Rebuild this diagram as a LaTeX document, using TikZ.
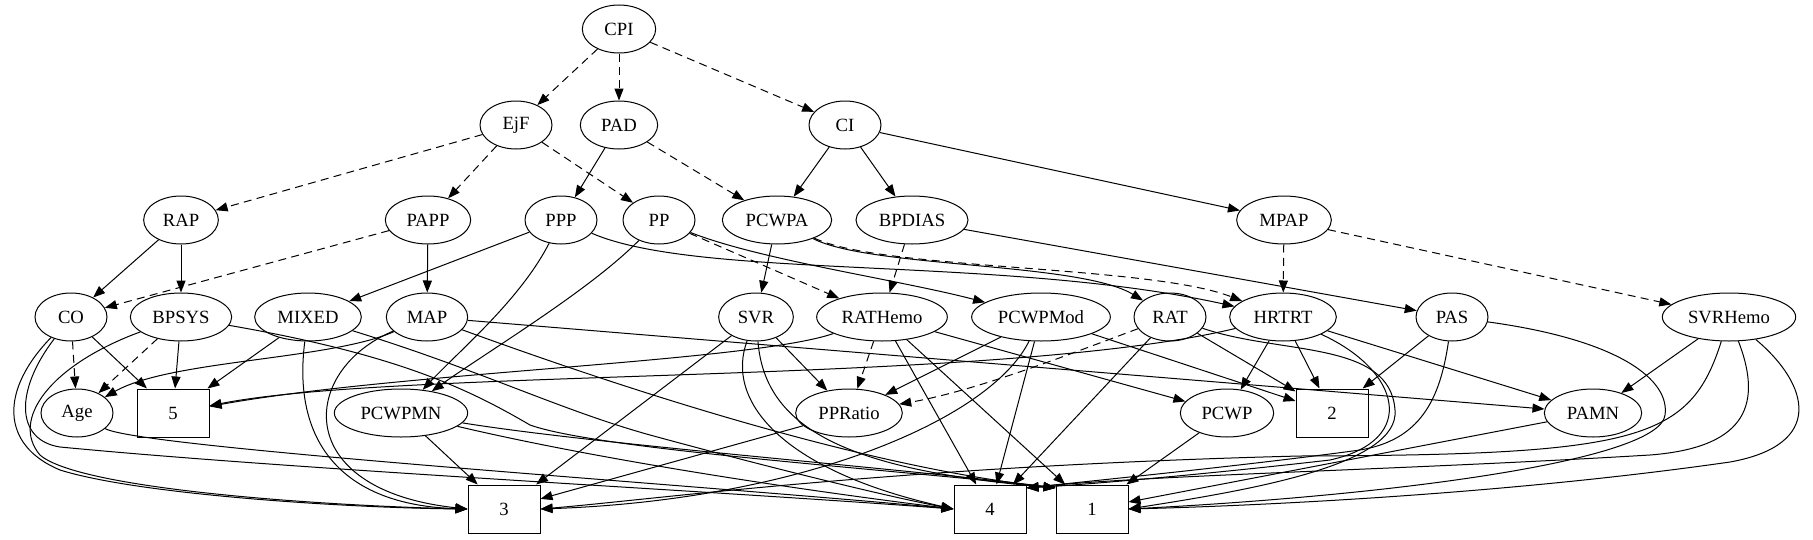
\documentclass[tikz,border=0pt]{standalone}
\usepackage{fontspec}
\setmainfont{Liberation Serif}
\usetikzlibrary{arrows.meta,shapes.geometric}

\tikzset{
  var/.style={draw, ellipse, minimum height=36pt, inner sep=0pt},
  outc/.style={draw, rectangle, minimum width=54pt, minimum height=36pt, inner sep=0pt},
  edge/.style={-{Triangle[length=9pt,width=6.8pt]}},
  dedge/.style={edge, dash pattern=on 6pt off 4pt}
}

\begin{document}
\begin{tikzpicture}[x=0.75pt, y=-0.75pt, line width=0.75pt, font=\fontsize{14}{16}\selectfont]
                \useasboundingbox (0,0) rectangle (1813,539);
                % Variables:
                \node[var, minimum width=55pt] (CPI) at (619,29) {CPI};
                \node[var, minimum width=54pt] (EjF) at (516,125) {EjF};
                \node[var, minimum width=58pt] (PAD) at (619,125) {PAD};
                \node[var, minimum width=54pt] (CI) at (845,125) {CI};
                \node[var, minimum width=56pt] (RAP) at (181,220) {RAP};
                \node[var, minimum width=64pt] (PAPP) at (428,220) {PAPP};
                \node[var, minimum width=54pt] (PPP) at (561,220) {PPP};
                \node[var, minimum width=54pt] (PP) at (659,220) {PP};
                \node[var, minimum width=82pt] (PCWPA) at (777,220) {PCWPA};
                \node[var, minimum width=84pt] (BPDIAS) at (912,220) {BPDIAS};
                \node[var, minimum width=71pt] (MPAP) at (1284,220) {MPAP};
                \node[var, minimum width=54pt] (CO) at (71,317) {CO};
                \node[var, minimum width=76pt] (BPSYS) at (181,317) {BPSYS};
                \node[var, minimum width=80pt] (MIXED) at (308,317) {MIXED};
                \node[var, minimum width=61pt] (MAP) at (427,317) {MAP};
                \node[var, minimum width=56pt] (SVR) at (756,317) {SVR};
                \node[var, minimum width=98pt] (RATHemo) at (882,317) {RATHemo};
                \node[var, minimum width=104pt] (PCWPMod) at (1041,317) {PCWPMod};
                \node[var, minimum width=54pt] (RAT) at (1170,317) {RAT};
                \node[var, minimum width=80pt] (HRTRT) at (1283,317) {HRTRT};
                \node[var, minimum width=54pt] (PAS) at (1452,317) {PAS};
                \node[var, minimum width=100pt] (SVRHemo) at (1729,317) {SVRHemo};
                \node[var, minimum width=54pt] (Age) at (77,413) {Age};
                \node[var, minimum width=100pt] (PCWPMN) at (401,413) {PCWPMN};
                \node[var, minimum width=80pt] (PPRatio) at (849,413) {PPRatio};
                \node[var, minimum width=70pt] (PCWP) at (1227,413) {PCWP};
                \node[var, minimum width=73pt] (PAMN) at (1593,413) {PAMN};
                % Outcome boxes:
                \node[outc] (b5) at (173,413) {5};
                \node[outc] (b2) at (1332,413) {2};
                \node[outc] (b3) at (504,509) {3};
                \node[outc] (b4) at (990,509) {4};
                \node[outc] (b1) at (1092,509) {1};
                % Dashed edges:
                \draw[dedge] (CPI) -- (EjF);
                \draw[dedge] (CPI) -- (PAD);
                \draw[dedge] (CPI) -- (CI);
                \draw[dedge] (EjF) -- (RAP);
                \draw[dedge] (EjF) -- (PAPP);
                \draw[dedge] (EjF) -- (PP);
                \draw[dedge] (PAD) -- (PCWPA);
                \draw[dedge] (PAPP) -- (CO);
                \draw[dedge] (PP) -- (RATHemo);
                \draw[dedge] (BPDIAS) -- (RATHemo);
                \draw[dedge] (MPAP) -- (HRTRT);
                \draw[dedge] (MPAP) -- (SVRHemo);
                \draw[dedge] (PCWPA) .. controls (880,270) and (1150,265) .. (HRTRT);
                \draw[dedge] (CO) -- (Age);
                \draw[dedge] (BPSYS) -- (Age);
                \draw[dedge] (RATHemo) -- (PPRatio);
                \draw[dedge] (RAT) .. controls (1080,350) and (980,390) .. (PPRatio);
                % Solid edges, upper part:
                \draw[edge] (PAD) -- (PPP);
                \draw[edge] (CI) -- (PCWPA);
                \draw[edge] (CI) -- (BPDIAS);
                \draw[edge] (CI) -- (MPAP);
                \draw[edge] (RAP) -- (CO);
                \draw[edge] (RAP) -- (BPSYS);
                \draw[edge] (PAPP) -- (MAP);
                \draw[edge] (PPP) -- (MIXED);
                \draw[edge] (PPP) .. controls (520,300) and (460,350) .. (PCWPMN);
                \draw[edge] (PP) .. controls (590,290) and (490,350) .. (PCWPMN);
                \draw[edge] (PPP) .. controls (700,280) and (1000,255) .. (HRTRT);
                \draw[edge] (PP) .. controls (760,260) and (900,280) .. (PCWPMod);
                \draw[edge] (PCWPA) -- (SVR);
                \draw[edge] (PCWPA) .. controls (870,268) and (1080,262) .. (RAT);
                \draw[edge] (BPDIAS) -- (PAS);
                % Solid edges, left part:
                \draw[edge] (CO) -- (b5);
                \draw[edge] (CO) .. controls (0,390) and (0,445) .. (60,470) .. controls (140,495) and (350,508) .. (b3.west);
                \draw[edge] (CO) .. controls (15,390) and (15,440) .. (60,447) .. controls (300,470) and (700,490) .. (b4.west);
                \draw[edge] (BPSYS) -- (b5);
                \draw[edge] (BPSYS) .. controls (50,365) and (10,420) .. (40,455) .. controls (80,490) and (330,506) .. (b3.west);
                \draw[edge] (BPSYS) .. controls (400,355) and (470,390) .. (530,425) .. controls (600,450) and (900,470) .. (b1.150);
                \draw[edge] (MIXED) -- (b5);
                \draw[edge] (MIXED) .. controls (292,440) and (340,505) .. (b3.west);
                \draw[edge] (MIXED) .. controls (480,370) and (560,410) .. (650,435) .. controls (760,465) and (880,495) .. (b4.west);
                \draw[edge] (MAP) .. controls (330,360) and (170,360) .. (Age);
                \draw[edge] (MAP) .. controls (300,370) and (290,490) .. (b3.west);
                \draw[edge] (MAP) -- (PAMN);
                \draw[edge] (MAP) .. controls (600,380) and (850,465) .. (b1.150);
                \draw[edge] (PCWPMN) -- (b3);
                \draw[edge] (PCWPMN) .. controls (600,460) and (800,490) .. (b4.west);
                \draw[edge] (PCWPMN) .. controls (600,445) and (900,468) .. (b1.150);
                \draw[edge] (Age) .. controls (140,448) and (700,485) .. (b4.west);
                % Solid edges, middle part:
                \draw[edge] (SVR) -- (b3);
                \draw[edge] (SVR) -- (PPRatio);
                \draw[edge] (SVR) .. controls (725,400) and (780,470) .. (b4.west);
                \draw[edge] (SVR) .. controls (765,430) and (850,470) .. (b1.150);
                \draw[edge] (RATHemo) .. controls (750,362) and (400,372) .. (b5);
                \draw[edge] (RATHemo) -- (b4);
                \draw[edge] (RATHemo) -- (b1);
                \draw[edge] (RATHemo) -- (PCWP);
                \draw[edge] (PCWPMod) -- (PPRatio);
                \draw[edge] (PCWPMod) -- (b4);
                \draw[edge] (PCWPMod) -- (b2);
                \draw[edge] (PCWPMod) .. controls (990,420) and (800,500) .. (b3.east);
                \draw[edge] (PPRatio) -- (b3);
                \draw[edge] (RAT) -- (b4);
                \draw[edge] (RAT) -- (b2);
                \draw[edge] (RAT) .. controls (1280,355) and (1390,340) .. (1395,410) .. controls (1400,465) and (1250,490) .. (b1.east);
                % Solid edges, right part:
                \draw[edge] (HRTRT) .. controls (1000,385) and (400,368) .. (b5);
                \draw[edge] (HRTRT) -- (PCWP);
                \draw[edge] (HRTRT) -- (b2);
                \draw[edge] (HRTRT) -- (PAMN);
                \draw[edge] (HRTRT) .. controls (1400,370) and (1420,440) .. (1330,460) .. controls (1200,475) and (1080,485) .. (b4.30);
                \draw[edge] (PAS) -- (b2);
                \draw[edge] (PAS) .. controls (1440,400) and (1420,440) .. (1360,450) .. controls (1250,465) and (1100,480) .. (b4.30);
                \draw[edge] (PAS) .. controls (1620,340) and (1670,380) .. (1665,415) .. controls (1660,460) and (1400,495) .. (b1.east);
                \draw[edge] (PCWP) -- (b1);
                \draw[edge] (PAMN) -- (b1);
                \draw[edge] (SVRHemo) -- (PAMN);
                \draw[edge] (SVRHemo) .. controls (1690,440) and (1640,455) .. (1300,456) .. controls (900,466) and (650,500) .. (b3.east);
                \draw[edge] (SVRHemo) .. controls (1765,410) and (1740,448) .. (1650,455) .. controls (1400,470) and (1150,475) .. (b4.30);
                \draw[edge] (SVRHemo) .. controls (1810,385) and (1825,445) .. (1730,462) .. controls (1500,495) and (1250,506) .. (b1.east);
            \end{tikzpicture}
\end{document}
